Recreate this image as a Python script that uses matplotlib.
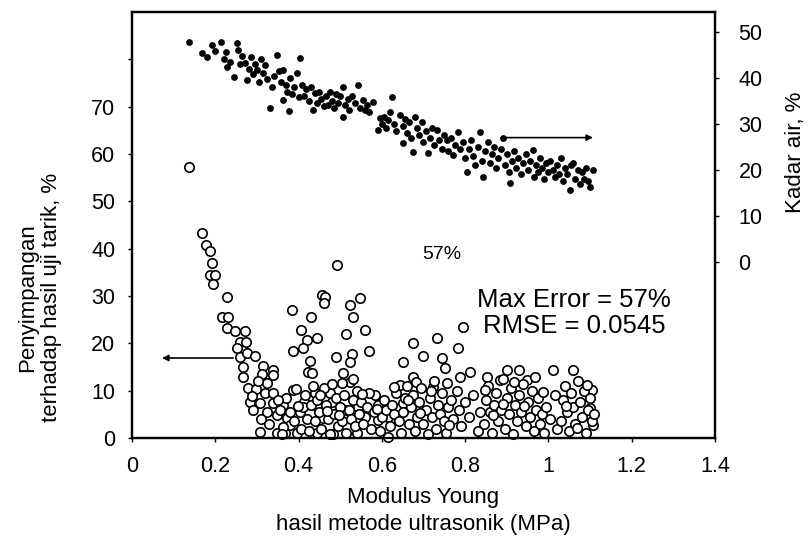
import numpy as np
import matplotlib
matplotlib.use("Agg")
import matplotlib.pyplot as plt

plt.rcParams['font.family'] = ['Liberation Sans', 'DejaVu Sans']

# penyimpangan (%) vs modulus young (MPa), open circles, left axis
open_x = [0.137, 0.168, 0.178, 0.187, 0.192, 0.187, 0.199, 0.195, 0.228, 0.216, 0.231, 0.228,
          0.247, 0.271, 0.259, 0.274, 0.252, 0.259, 0.276, 0.295, 0.267, 0.267, 0.315, 0.339,
          0.312, 0.339, 0.279, 0.298, 0.324, 0.319, 0.339, 0.283, 0.307, 0.339, 0.363, 0.291,
          0.324, 0.348, 0.372, 0.379, 0.307, 0.348, 0.367, 0.363,
          0.384, 0.406, 0.430, 0.387, 0.420, 0.411, 0.444, 0.427, 0.423, 0.432, 0.387, 0.393,
          0.440, 0.456, 0.464, 0.462, 0.492, 0.524, 0.548, 0.531, 0.514, 0.560, 0.528, 0.524,
          0.490, 0.569, 0.507, 0.524, 0.505, 0.531, 0.475, 0.480, 0.413, 0.403, 0.447, 0.459,
          0.444, 0.483, 0.514, 0.543, 0.560, 0.540, 0.584, 0.591, 0.615, 0.615, 0.644, 0.651,
          0.651, 0.675, 0.699, 0.675, 0.683, 0.723, 0.732, 0.744, 0.752, 0.756, 0.783, 0.788,
          0.812, 0.795,
          0.853, 0.900, 0.930, 0.884, 0.949, 1.011, 1.059, 1.105, 1.100, 1.107,
          0.310, 0.330, 0.355, 0.370, 0.380, 0.390, 0.395, 0.360,
          0.405, 0.410, 0.415, 0.420, 0.425, 0.430, 0.435, 0.440, 0.445, 0.450, 0.455, 0.460,
          0.465, 0.470, 0.475, 0.480, 0.485, 0.490, 0.495, 0.500,
          0.505, 0.510, 0.515, 0.520, 0.525, 0.530, 0.535, 0.540, 0.545, 0.550, 0.555, 0.565,
          0.570, 0.575, 0.580, 0.590, 0.595, 0.600,
          0.605, 0.610, 0.620, 0.625, 0.630, 0.635, 0.640, 0.645, 0.650, 0.655, 0.660, 0.665,
          0.670, 0.675, 0.680, 0.685, 0.690, 0.695, 0.700, 0.705, 0.710, 0.715, 0.720, 0.725,
          0.730,
          0.735, 0.740, 0.745, 0.750, 0.755, 0.760, 0.765, 0.770, 0.780, 0.785, 0.790, 0.800,
          0.810, 0.820, 0.830, 0.835,
          0.845, 0.850, 0.855, 0.860, 0.865, 0.870, 0.875, 0.880, 0.885, 0.890, 0.895, 0.900,
          0.905, 0.910, 0.915, 0.920, 0.925, 0.930, 0.935, 0.940, 0.945, 0.950, 0.955, 0.960,
          0.965, 0.970, 0.975, 0.980, 0.985, 0.990, 0.995,
          1.005, 1.015, 1.020,
          1.030, 1.035, 1.040, 1.045, 1.050, 1.055, 1.060, 1.065, 1.070, 1.075, 1.080, 1.085,
          1.090, 1.095, 1.100, 1.105, 1.110,
          0.288, 0.302, 0.350, 0.398, 0.452, 0.468, 0.498, 0.552, 0.588, 0.628, 0.662, 0.692,
          0.718, 0.762, 0.848, 0.868, 0.892, 0.918, 0.942, 0.968, 0.988, 1.042, 1.068, 1.092]
open_y = [57.3, 43.3, 40.8, 39.5, 37.0, 34.5, 34.5, 32.6, 29.8, 25.6, 25.6, 23.3,
          22.6, 22.6, 20.3, 20.3, 19.0, 17.1, 18.0, 17.3, 15.0, 12.9, 15.2, 14.4,
          13.5, 13.3, 10.6, 10.4, 11.6, 9.5, 9.5, 7.6, 7.4, 7.4, 7.0, 5.9,
          5.5, 4.9, 4.2, 2.7, 1.3, 1.1, 1.1, 2.3,
          27.0, 22.8, 25.6, 18.4, 20.7, 19.0, 21.1, 16.3, 14.0, 13.8, 10.1, 10.3,
          9.5, 30.2, 29.8, 28.5, 36.6, 28.1, 29.6, 25.6, 22.0, 22.8, 17.8, 16.0,
          17.1, 18.4, 13.7, 11.8, 11.6, 12.4, 9.5, 7.6, 7.6, 5.5, 6.3, 4.2,
          1.1, 0.8, 5.9, 6.6, 4.4, 1.1, 9.1, 3.8, 4.4, 0.2, 11.2, 7.4,
          16.0, 20.0, 17.3, 12.9, 11.8, 10.8, 21.1, 16.9, 14.8, 11.6, 19.0, 12.9,
          14.0, 23.5,
          12.9, 14.4, 14.4, 12.3, 12.3, 14.4, 14.4, 10.1, 6.3, 2.7,
          4.0, 3.0, 6.0, 8.5, 5.5, 3.5, 1.0, 0.8,
          2.0, 6.5, 9.0, 4.0, 1.5, 7.0, 11.0, 3.5, 8.0, 5.5, 2.0, 10.5,
          7.0, 4.0, 0.8, 11.5, 5.0, 8.5, 2.5, 6.5,
          3.5, 9.0, 1.0, 6.0, 4.0, 8.0, 2.5, 10.0, 5.0, 7.5, 3.0, 6.5,
          9.5, 2.0, 5.5, 7.0, 1.5, 4.5,
          8.0, 6.0, 2.5, 7.0, 5.0, 9.5, 3.5, 1.0, 5.5, 8.5, 11.0, 3.0,
          6.5, 9.0, 1.5, 4.5, 7.5, 10.5, 3.0, 6.0, 0.8, 8.5, 4.5, 12.0,
          2.0,
          7.0, 5.0, 9.5, 3.5, 1.0, 6.5, 8.0, 4.0, 10.0, 6.0, 2.5, 7.5,
          4.5, 9.0, 1.5, 5.5,
          3.0, 8.0, 11.0, 5.5, 1.0, 7.0, 9.5, 3.5, 6.0, 12.5, 2.0, 8.5,
          5.0, 10.5, 0.8, 7.0, 3.5, 9.0, 5.5, 11.5, 2.5, 7.5, 4.5, 10.0,
          1.5, 6.0, 8.5, 3.0, 5.0, 1.0, 6.5,
          4.0, 9.0, 2.0,
          3.5, 8.0, 11.0, 5.5, 1.5, 9.5, 6.5, 3.0, 12.0, 7.5, 4.5, 10.0,
          1.0, 6.0, 8.5, 3.5, 5.0,
          8.8, 12.0, 8.0, 6.8, 9.0, 5.8, 4.8, 9.2, 6.2, 10.8, 8.0, 5.2,
          10.0, 2.8, 10.2, 4.8, 7.2, 11.8, 6.8, 12.8, 9.8, 6.8, 2.2, 11.2]

# kadar air (%) vs modulus young (MPa), filled dots, right axis
filled_x = [0.137, 0.168, 0.180, 0.192, 0.200, 0.214, 0.220, 0.226, 0.228, 0.235, 0.245, 0.252,
            0.255, 0.260, 0.265, 0.271, 0.276, 0.280, 0.285, 0.290, 0.295, 0.300, 0.305, 0.310,
            0.315, 0.320, 0.325, 0.331, 0.336, 0.340, 0.348, 0.352, 0.357, 0.363, 0.363, 0.370,
            0.372, 0.377, 0.380, 0.385, 0.390, 0.396, 0.400, 0.403, 0.408, 0.412, 0.418, 0.425,
            0.430, 0.435, 0.440, 0.445, 0.450, 0.455, 0.460, 0.465, 0.470, 0.475, 0.480, 0.485,
            0.490, 0.495, 0.500, 0.507, 0.507, 0.512, 0.518, 0.522, 0.528, 0.535, 0.543, 0.548,
            0.555, 0.560, 0.565, 0.570, 0.579,
            0.591, 0.596, 0.600, 0.605, 0.610, 0.615, 0.624, 0.620, 0.630, 0.635, 0.644, 0.650,
            0.651, 0.656, 0.660, 0.665, 0.670, 0.675, 0.680, 0.685, 0.690, 0.696, 0.700, 0.705,
            0.711, 0.715, 0.720, 0.725, 0.732, 0.738, 0.745, 0.750, 0.756, 0.760, 0.765, 0.771,
            0.775, 0.783, 0.788, 0.795, 0.800, 0.804, 0.810, 0.815, 0.820, 0.824, 0.830, 0.836,
            0.840, 0.843, 0.848, 0.855, 0.860, 0.865, 0.870, 0.875, 0.880, 0.885, 0.891, 0.895,
            0.900, 0.905, 0.908, 0.912, 0.918, 0.922, 0.928, 0.935, 0.940, 0.945, 0.950, 0.955,
            0.963, 0.965, 0.970, 0.975, 0.980, 0.985, 0.990, 0.995, 1.000, 1.005, 1.010, 1.015,
            1.020, 1.025, 1.030, 1.035, 1.040, 1.045, 1.052, 1.055, 1.059, 1.065, 1.070, 1.075,
            1.080, 1.085, 1.090, 1.095, 1.100, 1.107]
filled_y = [47.8, 45.4, 44.5, 47.2, 45.8, 47.8, 44.0, 45.6, 42.4, 43.5, 40.2, 47.6,
            46.0, 43.0, 44.8, 43.3, 39.6, 42.0, 44.5, 40.8, 43.0, 41.7, 39.0, 44.0,
            41.0, 42.8, 39.8, 33.5, 38.0, 40.5, 45.0, 41.5, 39.0, 41.7, 35.2, 38.5,
            37.0, 32.8, 40.0, 36.5, 38.0, 41.0, 35.8, 44.3, 38.5, 36.0, 37.5, 35.0,
            38.0, 33.0, 36.7, 34.5, 37.0, 35.5, 33.8, 36.0, 34.0, 37.0, 35.0, 33.5,
            36.5, 34.5, 36.0, 38.0, 31.5, 34.0, 35.5, 33.0, 36.0, 34.5, 38.5, 33.5,
            35.2, 33.0, 34.0, 32.5, 34.8,
            28.7, 31.3, 30.0, 31.5, 29.0, 30.8, 35.9, 32.5, 30.0, 28.5, 32.0, 29.5,
            25.9, 31.0, 28.0, 30.5, 27.0, 23.9, 31.5, 29.0, 27.5, 30.4, 26.0, 28.5,
            23.7, 27.0, 29.0, 25.5, 28.7, 26.5, 24.5, 27.5, 26.5, 24.0, 27.0, 23.3,
            25.5, 28.3, 24.5, 26.0, 22.5, 19.6, 24.5, 26.5, 23.0, 21.1, 25.0, 28.3,
            22.0, 18.5, 24.0, 26.0, 21.5, 23.5, 25.0, 20.5, 22.5, 24.5, 27.0, 21.0,
            23.5, 19.5, 17.2, 22.0, 24.0, 20.5, 22.5, 19.0, 21.5, 23.5, 20.0, 22.0,
            24.3, 18.5, 21.0, 19.5, 22.5, 20.5, 18.0, 21.5, 19.5, 22.0, 20.0, 18.5,
            21.0, 19.0, 22.5, 17.5, 20.5, 19.0, 15.7, 21.0, 21.5, 18.0, 20.0, 17.0,
            19.5, 18.0, 20.5, 17.5, 16.3, 20.0]

x_ticks = [0, 0.2, 0.4, 0.6, 0.8, 1.0, 1.2, 1.4]
x_ticklabels = ["0", "0.2", "0.4", "0.6", "0.8", "1", "1.2", "1.4"]
left_ticks = [0, 10, 20, 30, 40, 50, 60, 70, 80]
left_ticklabels = ["0", "10", "20", "30", "40", "50", "60", "70", ""]
right_ticks = [0, 10, 20, 30, 40, 50]

fig = plt.figure(figsize=(8.12, 5.47), dpi=100)
ax = fig.add_axes([0.1626, 0.1993, 0.7179, 0.7787])
ax2 = ax.twinx()

ax.scatter(open_x, open_y, s=46, facecolors="white", edgecolors="black",
           linewidths=1.2, clip_on=False, zorder=3)
ax2.scatter(filled_x, filled_y, s=24, color="black", linewidths=0, zorder=3)

ax.set_xlim(0, 1.4)
ax.set_ylim(0, 90)
ax2.set_ylim(-38.3, 54.3)

ax.set_xticks(x_ticks)
ax.set_xticklabels(x_ticklabels)
ax.set_yticks(left_ticks)
ax.set_yticklabels(left_ticklabels)
ax2.set_yticks(right_ticks)

ax.tick_params(axis="both", labelsize=15.5, length=3, width=1, pad=10)
ax.tick_params(axis="y", pad=9)
ax2.tick_params(axis="y", labelsize=15.5, length=3, width=1, pad=14)

for a in (ax, ax2):
    for sp in a.spines.values():
        sp.set_linewidth(1.6)

# arrows showing which axis each series belongs to
ax.annotate("", xy=(0.072, 16.9), xytext=(0.243, 16.9),
            arrowprops=dict(arrowstyle="-|>", color="black", lw=1.2,
                            mutation_scale=9, shrinkA=0, shrinkB=0))
ax2.annotate("", xy=(1.107, 27.0), xytext=(0.89, 27.0),
             arrowprops=dict(arrowstyle="-|>", color="black", lw=1.2,
                             mutation_scale=9, shrinkA=0, shrinkB=0))

ax.text(0.745, 38.8, "57%", fontsize=14, ha="center", va="center", zorder=10)
ax2.text(1.061, 26.4, "Max Error = 57%\nRMSE = 0.0545", transform=ax.transData,
         fontsize=18.5, ha="center", va="center", linespacing=1.1, zorder=10,
         bbox=dict(facecolor="white", edgecolor="none", pad=1))

ax.set_xlabel("Modulus Young\nhasil metode ultrasonik (MPa)", fontsize=16,
              linespacing=1.4, labelpad=7)
ax.set_ylabel("Penyimpangan\nterhadap hasil uji tarik, %", fontsize=16,
              linespacing=1.2)
ax.yaxis.set_label_coords(-0.12, 0.33)
ax2.set_ylabel("Kadar air, %", fontsize=16)
ax2.yaxis.set_label_coords(1.12, 0.671)

fig.savefig("out.png", dpi=100)
